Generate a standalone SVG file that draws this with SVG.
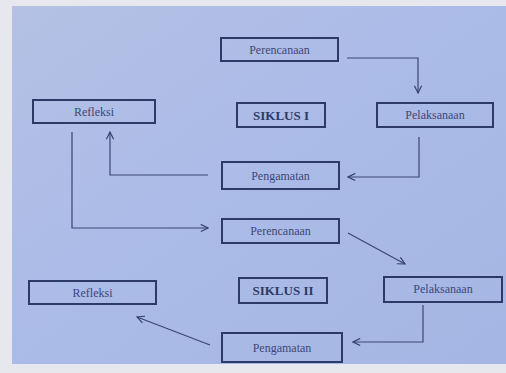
<svg xmlns="http://www.w3.org/2000/svg" width="506" height="373" viewBox="0 0 506 373">
<defs>
<linearGradient id="bg" x1="0" y1="0" x2="1" y2="1">
<stop offset="0" stop-color="#b4c1e4"/>
<stop offset="0.5" stop-color="#abbbe8"/>
<stop offset="1" stop-color="#a6b6e4"/>
</linearGradient>
<marker id="ah" viewBox="0 0 10 10" refX="9" refY="5" markerWidth="9" markerHeight="9" markerUnits="userSpaceOnUse" orient="auto">
<path d="M1,1 L9,5 L1,9" fill="none" stroke="#34406e" stroke-width="1.3"/>
</marker>
</defs>
<style>
.box{fill:none;stroke:#2e3a66;stroke-width:2}
.t{font-family:"Liberation Serif","Times New Roman",serif;font-size:12px;fill:#3c4876;text-anchor:middle}
.b{font-weight:bold;font-size:13px;fill:#2e3a66}
.c{fill:none;stroke:#3a4674;stroke-width:1.2;marker-end:url(#ah)}
</style>
<rect width="506" height="373" fill="#e6e8ee"/>
<rect x="12" y="6" width="494" height="358" fill="url(#bg)"/>
<g id="perencanaan1"><rect class="box" x="221" y="38" width="117" height="23"/><text class="t" x="279.5" y="53.5">Perencanaan</text></g>
<g id="refleksi1"><rect class="box" x="33" y="100" width="122" height="23"/><text class="t" x="94" y="115.5">Refleksi</text></g>
<g id="siklus1"><rect class="box" x="237" y="103" width="88" height="24"/><text class="t b" x="281" y="119.5">SIKLUS I</text></g>
<g id="pelaksanaan1"><rect class="box" x="377" y="103" width="116" height="24"/><text class="t" x="435" y="119">Pelaksanaan</text></g>
<g id="pengamatan1"><rect class="box" x="222" y="162" width="117" height="27"/><text class="t" x="280.5" y="179.5">Pengamatan</text></g>
<g id="perencanaan2"><rect class="box" x="222" y="219" width="117" height="24"/><text class="t" x="280.5" y="235">Perencanaan</text></g>
<g id="refleksi2"><rect class="box" x="29" y="281" width="127" height="23"/><text class="t" x="92.5" y="296.5">Refleksi</text></g>
<g id="siklus2"><rect class="box" x="239" y="278" width="88" height="25"/><text class="t b" x="283" y="295">SIKLUS II</text></g>
<g id="pelaksanaan2"><rect class="box" x="384" y="277" width="118" height="25"/><text class="t" x="443" y="293">Pelaksanaan</text></g>
<g id="pengamatan2"><rect class="box" x="222" y="333" width="120" height="29"/><text class="t" x="282" y="351.5">Pengamatan</text></g>
<g id="connectors">
<path class="c" d="M347,58 H418 V93"/>
<path class="c" d="M419,137 V177 H348"/>
<path class="c" d="M208,175 H110 V132"/>
<path class="c" d="M72,132 V228 H208"/>
<path class="c" d="M348,233 L405,264"/>
<path class="c" d="M423,305 V342 H353"/>
<path class="c" d="M210,345 L137,317"/>
</g>
</svg>
